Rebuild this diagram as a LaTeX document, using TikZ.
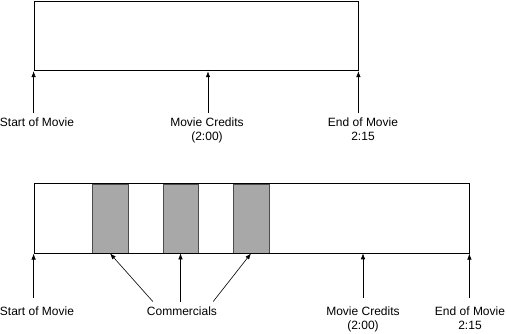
\documentclass[tikz,border=0pt]{standalone}
\usepackage{fontspec}
\setmainfont{Liberation Sans}
\usetikzlibrary{arrows.meta}
\begin{document}
\begin{tikzpicture}[x=1pt,y=-1pt,
    strip/.style={draw, line width=0.8pt, inner sep=0pt, minimum width=#1, minimum height=69.5pt},
    spot/.style={draw=black!70, fill=black!34, line width=0.8pt, inner sep=0pt, minimum width=#1, minimum height=69pt},
    lbl/.style={font=\fontsize{12}{14}\selectfont, align=center, inner sep=0pt, anchor=north},
    arr/.style={-{Latex[length=6pt,width=4.5pt]}, line width=0.6pt}]
    \useasboundingbox (0,0) rectangle (506,334);
    % Strips
    \node [strip=324pt] (film) at (196,36) {};
    \node [spot=36pt] (spot1) at (110,218.5) {};
    \node [spot=35pt] (spot2) at (180.5,218.5) {};
    \node [spot=36pt] (spot3) at (251,218.5) {};
    \node [strip=435pt] (tv) at (251.5,218.5) {};
    % Coordinate
    \coordinate (t1) at (film.south west);
    \coordinate (t2) at (208,71.25);
    \coordinate (t3) at (film.south east);
    \coordinate (b1) at (tv.south west);
    \coordinate (b2) at (363,253.25);
    \coordinate (b3) at (tv.south east);
    % Labels
    \node [lbl] (lstart) at (37,117.5) {Start of Movie};
    \node [lbl] (lcred) at (207,117.5) {Movie Credits\\(2:00)};
    \node [lbl] (lend) at (363,117.5) {End of Movie\\2:15};
    \node [lbl] (bstart) at (37,306.5) {Start of Movie};
    \node [lbl] (comm) at (182,306.5) {Commercials};
    \node [lbl] (bcred) at (363,306.5) {Movie Credits\\(2:00)};
    \node [lbl] (bend) at (470,306.5) {End of Movie\\2:15};
    % Arrows
    \draw [arr] ([yshift=4pt]lstart.north -| t1) -- (t1);
    \draw [arr] ([yshift=4pt]lcred.north -| t2) -- (t2);
    \draw [arr] ([yshift=4pt]lend.north -| t3) -- (t3);
    \draw [arr] ([yshift=9pt]bstart.north -| b1) -- (b1);
    \draw [arr] ([yshift=9pt]bcred.north -| b2) -- (b2);
    \draw [arr] ([yshift=9pt]bend.north -| b3) -- (b3);
    \draw [arr] ([xshift=6pt,yshift=5pt]comm.north west) -- (spot1.south);
    \draw [arr] ([yshift=5pt]comm.north -| spot2.south) -- (spot2.south);
    \draw [arr] ([xshift=-4pt,yshift=5pt]comm.north east) -- (spot3.south);
\end{tikzpicture}
\end{document}
